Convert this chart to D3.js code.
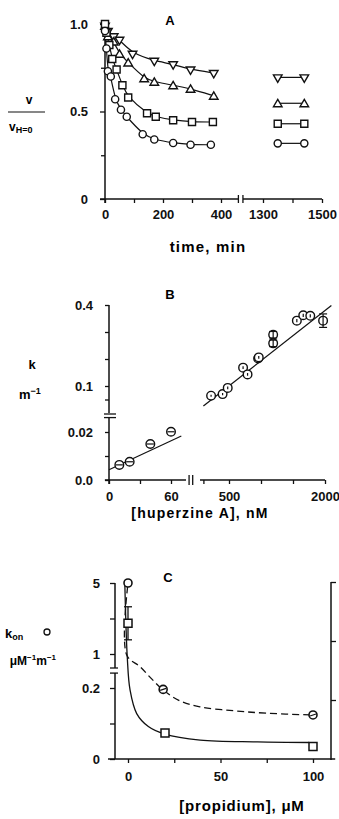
<!DOCTYPE html>
<html>
<head>
<meta charset="utf-8">
<script src="https://cdn.jsdelivr.net/npm/d3@7"></script>
<style>
  body { margin: 0; background: #fff; }
  svg { display: block; font-family: "Liberation Sans", Arial, sans-serif; font-weight: bold; }
</style>
</head>
<body>
<script>
// ---- Panel A: v / v(H=0) against time ----
const aDownT = [0, 10, 30, 50, 95, 170, 235, 295, 375];
const aDownV = [0.99, 0.96, 0.93, 0.91, 0.83, 0.79, 0.77, 0.74, 0.72];
const aUpT = [0, 10, 30, 50, 80, 135, 170, 235, 295, 375];
const aUpV = [0.99, 0.93, 0.90, 0.83, 0.78, 0.69, 0.67, 0.65, 0.63, 0.59];
const aSqT = [0, 5, 15, 25, 40, 60, 80, 145, 175, 235, 300, 372];
const aSqV = [1.0, 0.95, 0.88, 0.80, 0.74, 0.65, 0.58, 0.49, 0.47, 0.45, 0.44, 0.44];
const aCircT = [0, 5, 10, 20, 35, 55, 75, 130, 170, 235, 295, 365];
const aCircV = [0.96, 0.86, 0.73, 0.70, 0.57, 0.51, 0.47, 0.37, 0.34, 0.32, 0.31, 0.31];
// late readings, right of the axis break
const aLateT = [1350, 1440];
const aLateDown = [0.695, 0.695];
const aLateUp = [0.547, 0.547];
const aLateSq = [0.43, 0.43];
const aLateCirc = [0.318, 0.318];
const aXTicks = [0, 100, 200, 300, 400];
const aXTicks2 = [1300, 1400, 1500];
const aYTicks = [0, 0.5, 1];
const aYMinor = [0.25, 0.75];

// ---- Panel B: k against [huperzine A] ----
const bLowX = [10, 20, 40, 60];
const bLowY = [0.0063, 0.0076, 0.0150, 0.0201];
const bLowFitX = [0, 70];
const bLowFitY = [0.0043, 0.0183];
const bHighX = [220, 400, 480, 720, 790, 955, 965, 1190, 1190, 1560, 1660, 1770, 1970];
const bHighY = [0.064, 0.070, 0.093, 0.168, 0.143, 0.202, 0.206, 0.290, 0.258, 0.342, 0.362, 0.360, 0.342];
const bHighErr = [0.004, 0.004, 0.005, 0.005, 0.005, 0.005, 0.005, 0.012, 0.012, 0.006, 0.006, 0.006, 0.025];
const bHighFitX = [100, 2100];
const bHighFitY = [0.026, 0.398];
const bXTicksLow = [0, 30, 60];
const bXTicksHigh = [100, 500, 1000, 1500, 2000];
const bYTicksHigh = [0.05, 0.1, 0.2, 0.3, 0.4];
const bYTicksLow = [0, 0.01, 0.02];

// ---- Panel C: kon against [propidium] ----
const cCircX = [0, 19, 100];
const cCircY = [5, 0.196, 0.124];
const cSqX = [0, 20, 100];
const cSqY = [2.3, 0.44, 0.21];
const cSqErr = [0.28, 0, 0];
const cDashX = [-0.2, -0.7, 6.5, 12.8, 19.1, 27.2, 38.9, 56.9, 74.9, 99.3];
const cDashY = [4.8, 0.944, 0.284, 0.205, 0.194, 0.166, 0.147, 0.136, 0.129, 0.124];
const cSolidX = [-1.7, -0.4, 1.1, 4.7, 11, 20, 39, 70, 98];
const cSolidY = [2.95, 1.73, 1.17, 0.77, 0.55, 0.42, 0.32, 0.29, 0.28];
const cXTicks = [0, 25, 50, 75, 100];
const cYTicks = [0, 0.1, 0.2, 1, 3, 5];
const cYLabels = { 0: "0", 0.2: "0.2", 1: "1", 5: "5" };
const cRTicks = [1, 2, 3];

const W = 339, H = 819;
const svg = d3.select("body").append("svg").attr("width", W).attr("height", H);
svg.append("rect").attr("width", W).attr("height", H).attr("fill", "#fff");

const ink = "#111";

function line(g, x1, y1, x2, y2, w = 1.5) {
  g.append("line").attr("x1", x1).attr("y1", y1).attr("x2", x2).attr("y2", y2)
    .attr("stroke", ink).attr("stroke-width", w);
}

// ticks from a d3 axis, domain path removed (domain lines are drawn by hand because of the breaks)
function ticks(g, axis, size = 13) {
  g.call(axis).call(g => g.select(".domain").remove())
    .attr("font-family", null).attr("font-size", size);
  g.selectAll("line").attr("stroke", ink).attr("stroke-width", 1.3);
  g.selectAll("text").attr("fill", ink);
  return g;
}

function sym(type, size) {
  return d3.symbol().type(type).size(size)();
}

function marker(g, kind, x, y) {
  if (kind === "down") {
    g.append("path").attr("d", sym(d3.symbolTriangle, 32))
      .attr("transform", `translate(${x},${y}) rotate(180)`)
      .attr("fill", "#fff").attr("stroke", ink).attr("stroke-width", 1.4);
  } else if (kind === "up") {
    g.append("path").attr("d", sym(d3.symbolTriangle, 32))
      .attr("transform", `translate(${x},${y + 1})`)
      .attr("fill", "#fff").attr("stroke", ink).attr("stroke-width", 1.4);
  } else if (kind === "square") {
    g.append("path").attr("d", sym(d3.symbolSquare, 50))
      .attr("transform", `translate(${x},${y})`)
      .attr("fill", "#fff").attr("stroke", ink).attr("stroke-width", 1.4);
  } else {
    g.append("circle").attr("cx", x).attr("cy", y).attr("r", 3.6)
      .attr("fill", "#fff").attr("stroke", ink).attr("stroke-width", 1.4);
  }
}

// ================= Panel A =================
const xA = d3.scaleLinear([0, 400], [105, 221]);
const xA2 = d3.scaleLinear([1300, 1500], [263, 322]);
const yA = d3.scaleLinear([0, 1], [199, 24]);
const gA = svg.append("g");

line(gA, xA(0), yA(0) + 4, xA(0), yA(1));
line(gA, xA(-17), yA(0), xA(460), yA(0));
line(gA, xA2(1232), yA(0), xA2(1500), yA(0));
line(gA, xA(460), yA(0) - 4, xA(460), yA(0) + 4, 1.3);
line(gA, xA2(1232), yA(0) - 4, xA2(1232), yA(0) + 4, 1.3);

ticks(gA.append("g").attr("transform", `translate(${xA(0)},0)`),
  d3.axisLeft(yA).tickValues(aYTicks).tickSize(5).tickPadding(12)
    .tickFormat(d => d === 0 ? "0" : d3.format(".1f")(d)));
ticks(gA.append("g").attr("transform", `translate(${xA(0)},0)`),
  d3.axisLeft(yA).tickValues(aYMinor).tickSize(4).tickFormat(""));
ticks(gA.append("g").attr("transform", `translate(0,${yA(0)})`),
  d3.axisBottom(xA).tickValues(aXTicks).tickSize(4).tickPadding(7)
    .tickFormat(d => d % 200 === 0 ? d : ""));
ticks(gA.append("g").attr("transform", `translate(0,${yA(0)})`),
  d3.axisBottom(xA2).tickValues(aXTicks2).tickSize(4).tickPadding(7)
    .tickFormat(d => d === 1400 ? "" : d));

const aSeries = [
  { kind: "down", t: aDownT, v: aDownV, late: aLateDown },
  { kind: "up", t: aUpT, v: aUpV, late: aLateUp },
  { kind: "square", t: aSqT, v: aSqV, late: aLateSq },
  { kind: "circle", t: aCircT, v: aCircV, late: aLateCirc }
];
const aLine = d3.line().curve(d3.curveBasis).x(d => xA(d[0])).y(d => yA(d[1]));
const aLateLine = d3.line().x(d => xA2(d[0])).y(d => yA(d[1]));
aSeries.forEach(s => {
  gA.append("path").attr("d", aLine(d3.zip(s.t, s.v)))
    .attr("fill", "none").attr("stroke", ink).attr("stroke-width", 1.2);
  gA.append("path").attr("d", aLateLine(d3.zip(aLateT, s.late)))
    .attr("fill", "none").attr("stroke", ink).attr("stroke-width", 1.2);
});
aSeries.forEach(s => {
  s.t.forEach((t, i) => marker(gA, s.kind, xA(t), yA(s.v[i])));
  aLateT.forEach((t, i) => marker(gA, s.kind, xA2(t), yA(s.late[i])));
});

gA.append("text").attr("x", 170).attr("y", 25).attr("text-anchor", "middle")
  .attr("font-size", 13).text("A");
gA.append("text").attr("x", 208).attr("y", 252).attr("text-anchor", "middle")
  .attr("font-size", 15).attr("letter-spacing", 1.2).text("time, min");
gA.append("text").attr("x", 29).attr("y", 104).attr("text-anchor", "middle")
  .attr("font-size", 12).text("v");
line(gA, 8, 112, 45, 112, 1.2);
const vh = gA.append("text").attr("x", 9).attr("y", 131).attr("font-size", 12);
vh.append("tspan").text("v");
vh.append("tspan").attr("font-size", 9).attr("dy", 2).text("H=0");

// ================= Panel B =================
const xB1 = d3.scaleLinear([0, 60], [109, 171]);
const xB2 = d3.scaleLinear([0, 2000], [197, 325]);
const yB1 = d3.scaleLinear([0, 0.02], [480, 432]);
const yB2 = d3.scaleLinear([0, 0.4], [413, 305]);
const gB = svg.append("g");

line(gB, xB1(0), yB2(0.4), xB1(0), yB2(0));
line(gB, xB1(0), yB1(0.0258), xB1(0), yB1(0) + 4);
line(gB, xB1(0) - 5, yB2(0) + 1, xB1(0) + 7, yB2(0) + 1, 1.3);
line(gB, xB1(0) - 5, yB1(0.0258) - 0.5, xB1(0) + 7, yB1(0.0258) - 0.5, 1.3);
line(gB, xB1(-4), yB1(0), xB1(74.5), yB1(0));
line(gB, xB1(77.5), yB1(0) - 5, xB1(77.5), yB1(0) + 5, 1.3);
line(gB, xB1(81), yB1(0) - 5, xB1(81), yB1(0) + 5, 1.3);
line(gB, xB2(47), yB1(0), xB2(2000), yB1(0));

ticks(gB.append("g").attr("transform", `translate(${xB1(0)},0)`),
  d3.axisLeft(yB2).tickValues(bYTicksHigh).tickSize(4).tickPadding(12)
    .tickFormat(d => (d === 0.1 || d === 0.4) ? d3.format(".1f")(d) : ""));
ticks(gB.append("g").attr("transform", `translate(${xB1(0)},0)`),
  d3.axisLeft(yB1).tickValues(bYTicksLow).tickSize(4).tickPadding(12)
    .tickFormat(d => d === 0 ? "0.0" : d === 0.02 ? "0.02" : ""));
ticks(gB.append("g").attr("transform", `translate(0,${yB1(0)})`),
  d3.axisBottom(xB1).tickValues(bXTicksLow).tickSize(4).tickPadding(8)
    .tickFormat(d => d === 30 ? "" : d));
ticks(gB.append("g").attr("transform", `translate(0,${yB1(0)})`),
  d3.axisBottom(xB2).tickValues(bXTicksHigh).tickSize(4).tickPadding(8)
    .tickFormat(d => (d === 500 || d === 2000) ? d : ""));

gB.append("path").attr("d", d3.line().x(d => xB1(d[0])).y(d => yB1(d[1]))(d3.zip(bLowFitX, bLowFitY)))
  .attr("stroke", ink).attr("stroke-width", 1.2).attr("fill", "none");
gB.append("path").attr("d", d3.line().x(d => xB2(d[0])).y(d => yB2(d[1]))(d3.zip(bHighFitX, bHighFitY)))
  .attr("stroke", ink).attr("stroke-width", 1.2).attr("fill", "none");

bLowX.forEach((x, i) => {
  const cx = xB1(x), cy = yB1(bLowY[i]);
  gB.append("circle").attr("cx", cx).attr("cy", cy).attr("r", 4.3)
    .attr("fill", "#fff").attr("stroke", ink).attr("stroke-width", 1.4);
  line(gB, cx - 3.5, cy, cx + 3.5, cy, 1.2);
});
bHighX.forEach((x, i) => {
  const cx = xB2(x), cy = yB2(bHighY[i]);
  const lo = yB2(bHighY[i] - bHighErr[i]), hi = yB2(bHighY[i] + bHighErr[i]);
  gB.append("circle").attr("cx", cx).attr("cy", cy).attr("r", 4.3)
    .attr("fill", "#fff").attr("stroke", ink).attr("stroke-width", 1.4);
  line(gB, cx, lo, cx, hi, 1.2);
  if (bHighErr[i] > 0.01) {
    line(gB, cx - 4, lo, cx + 4, lo, 1.2);
    line(gB, cx - 4, hi, cx + 4, hi, 1.2);
  }
});

gB.append("text").attr("x", 170).attr("y", 299).attr("text-anchor", "middle")
  .attr("font-size", 13).text("B");
gB.append("text").attr("x", 32).attr("y", 369).attr("text-anchor", "middle")
  .attr("font-size", 13).text("k");
const mk = gB.append("text").attr("x", 19).attr("y", 399).attr("font-size", 13);
mk.append("tspan").text("m");
mk.append("tspan").attr("font-size", 9).attr("dy", -5).text("−1");
gB.append("text").attr("x", 200).attr("y", 518).attr("text-anchor", "middle")
  .attr("font-size", 14).attr("letter-spacing", 1.2).text("[huperzine A], nM");

// ================= Panel C =================
const xC = d3.scaleLinear([0, 100], [128, 313]);
const yC = d3.scaleLinear([0, 0.2, 0.211, 5], [759, 688, 668, 583]);
const yCR = d3.scaleLinear([0, 3], [759, 582]);
const gC = svg.append("g");

line(gC, xC(0) - 13, yC(5), xC(0) - 13, yC(0.211));
line(gC, xC(0) - 13, yC(0.2082), xC(0) - 13, yC(0));
line(gC, xC(0) - 18, yC(0.211), xC(0) - 10, yC(0.211), 1.3);
line(gC, xC(0) - 18, yC(0.2082), xC(0) - 10, yC(0.2082), 1.3);
line(gC, xC(-10.8), yC(0), xC(112), yC(0));
line(gC, 331, yCR(3), 331, yCR(0) + 1);

ticks(gC.append("g").attr("transform", `translate(${xC(0) - 13},0)`),
  d3.axisLeft(yC).tickValues(cYTicks).tickSize(5).tickPadding(10)
    .tickFormat(d => cYLabels[d] || ""));
ticks(gC.append("g").attr("transform", `translate(0,${yC(0)})`),
  d3.axisBottom(xC).tickValues(cXTicks).tickSize(4).tickPadding(9)
    .tickFormat(d => d % 50 === 0 ? d : ""));
ticks(gC.append("g").attr("transform", `translate(331,0)`),
  d3.axisRight(yCR).tickValues(cRTicks).tickSize(5).tickFormat(""));

gC.append("path")
  .attr("d", d3.line().curve(d3.curveCatmullRom).x(d => xC(d[0])).y(d => yC(d[1]))(d3.zip(cDashX, cDashY)))
  .attr("fill", "none").attr("stroke", ink).attr("stroke-width", 1.3).attr("stroke-dasharray", "7,4");
gC.append("path")
  .attr("d", d3.line().curve(d3.curveCatmullRom).x(d => xC(d[0])).y(d => yCR(d[1]))(d3.zip(cSolidX, cSolidY)))
  .attr("fill", "none").attr("stroke", ink).attr("stroke-width", 1.3);

cSqX.forEach((x, i) => {
  const cx = xC(x), cy = yCR(cSqY[i]);
  if (cSqErr[i] > 0) {
    const lo = yCR(cSqY[i] - cSqErr[i]), hi = yCR(cSqY[i] + cSqErr[i]);
    line(gC, cx, lo, cx, hi, 1.3);
    line(gC, cx - 4, lo, cx + 4, lo, 1.3);
    line(gC, cx - 4, hi, cx + 4, hi, 1.3);
  }
  gC.append("path").attr("d", sym(d3.symbolSquare, 64))
    .attr("transform", `translate(${cx},${cy})`)
    .attr("fill", "#fff").attr("stroke", ink).attr("stroke-width", 1.5);
});
cCircX.forEach((x, i) => {
  const cx = xC(x), cy = yC(cCircY[i]);
  gC.append("circle").attr("cx", cx).attr("cy", cy).attr("r", 4)
    .attr("fill", "#fff").attr("stroke", ink).attr("stroke-width", 1.6);
  if (i > 0) line(gC, cx - 3, cy + 1, cx + 3, cy - 1, 1.2);
});

gC.append("text").attr("x", 168).attr("y", 582).attr("text-anchor", "middle")
  .attr("font-size", 13).text("C");
const kon = gC.append("text").attr("x", 5).attr("y", 638).attr("font-size", 13);
kon.append("tspan").text("k");
kon.append("tspan").attr("font-size", 9).attr("dy", 2).text("on");
gC.append("circle").attr("cx", 47).attr("cy", 632).attr("r", 3)
  .attr("fill", "#fff").attr("stroke", ink).attr("stroke-width", 1.3);
const um = gC.append("text").attr("x", 56).attr("y", 665).attr("text-anchor", "end").attr("font-size", 12);
um.append("tspan").text("μM");
um.append("tspan").attr("font-size", 8).attr("dy", -5).text("−1");
um.append("tspan").attr("dy", 5).text("m");
um.append("tspan").attr("font-size", 8).attr("dy", -5).text("−1");
gC.append("text").attr("x", 242).attr("y", 811).attr("text-anchor", "middle")
  .attr("font-size", 15).attr("letter-spacing", 0.8).text("[propidium], μM");
</script>
</body>
</html>
